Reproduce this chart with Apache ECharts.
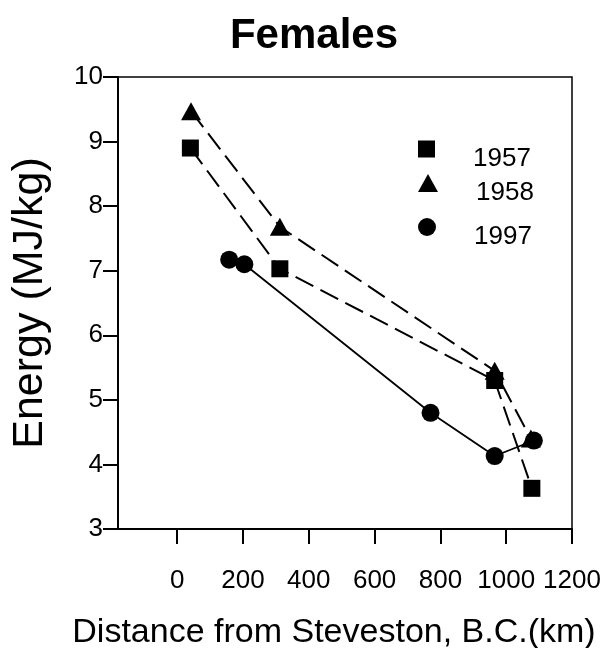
<!DOCTYPE html>
<html><head><meta charset="utf-8">
<script src="https://cdn.jsdelivr.net/npm/echarts@6/dist/echarts.min.js"></script>
<style>html,body{margin:0;padding:0;background:#fff}#c{width:607px;height:648px}</style>
</head><body><div id="c"></div>
<script>
var seriesNames = ['1957', '1958', '1997'];
var data1957 = [[40, 8.90], [312, 7.03], [965, 5.30], [1078, 3.63]];
var data1958 = [[42, 9.47], [312, 7.68], [965, 5.45], [1075, 4.40]];
var data1997 = [[158, 7.17], [204, 7.10], [770, 4.80], [965, 4.13], [1084, 4.37]];
var xTicks = [0, 200, 400, 600, 800, 1000, 1200];
var yTicks = [3, 4, 5, 6, 7, 8, 9, 10];

var F = 'Liberation Sans, Arial, sans-serif';
var chart = echarts.init(document.getElementById('c'));
function leg(name, icon, top, w, h) {
  return {
    data: [{ name: name, icon: icon }],
    left: 413, top: top, itemWidth: w, itemHeight: h,
    formatter: '\n{name}',
    textStyle: { fontFamily: F, fontSize: 26, lineHeight: 20, color: '#000', padding: [0, 0, 0, 33] },
    selectedMode: false
  };
}
chart.setOption({
  animation: false,
  title: { text: 'Females', left: 309, textAlign: 'center', top: 10,
    textStyle: { fontFamily: F, fontSize: 42, fontWeight: 'bold', color: '#000' } },
  legend: [
    leg('1957', 'rect', 121, 17, 17),
    leg('1958', 'triangle', 155, 20, 18),
    leg('1997', 'circle', 199, 18, 18)
  ],
  grid: { left: 118, right: 35, top: 77, bottom: 119, show: true, borderColor: '#000', borderWidth: 1.5,
    containLabel: false, outerBoundsMode: 'none' },
  xAxis: {
    type: 'value', min: -180, max: 1200,
    name: 'Distance from Steveston, B.C.(km)', nameLocation: 'middle', nameGap: 87,
    nameTextStyle: { fontFamily: F, fontSize: 34, color: '#000', padding: [0, 22, 0, 0] },
    axisLine: { show: true, onZero: false, lineStyle: { color: '#000', width: 2 } },
    axisTick: { show: true, length: 15, customValues: xTicks, lineStyle: { color: '#000', width: 2 } },
    axisLabel: { customValues: xTicks, fontFamily: F, fontSize: 26, color: '#000', margin: 39,
      formatter: function (v) { return String(v); } },
    splitLine: { show: false }
  },
  yAxis: {
    type: 'value', min: 3, max: 10, interval: 1,
    name: 'Energy (MJ/kg)', nameLocation: 'middle', nameGap: 66,
    nameTextStyle: { fontFamily: F, fontSize: 43, color: '#000' },
    axisLine: { show: true, onZero: false, lineStyle: { color: '#000', width: 2 } },
    axisTick: { show: true, length: 15, lineStyle: { color: '#000', width: 2 } },
    axisLabel: { fontFamily: F, fontSize: 26, color: '#000', margin: 15,
      customValues: yTicks, formatter: function (v) { return String(v); } },
    splitLine: { show: false }
  },
  series: [
    { name: seriesNames[0], type: 'line', data: data1957, symbol: 'rect', symbolSize: 17,
      lineStyle: { color: '#000', width: 2, type: [20, 8] }, itemStyle: { color: '#000' }, z: 2 },
    { name: seriesNames[1], type: 'line', data: data1958, symbol: 'triangle', symbolSize: [20, 18],
      lineStyle: { color: '#000', width: 2, type: [20, 8] }, itemStyle: { color: '#000' }, z: 3 },
    { name: seriesNames[2], type: 'line', data: data1997, symbol: 'circle', symbolSize: 18,
      lineStyle: { color: '#000', width: 1.8, type: 'solid' }, itemStyle: { color: '#000' }, z: 4 }
  ]
});
</script></body></html>
